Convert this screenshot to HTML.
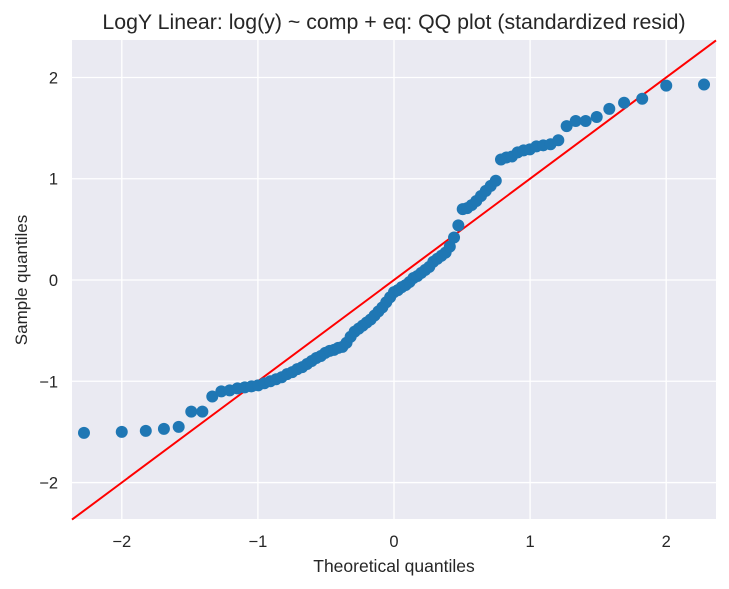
<!DOCTYPE html>
<html><head><meta charset="utf-8"><style>
html,body{margin:0;padding:0;background:#fff;}
svg{display:block;font-family:"Liberation Sans",sans-serif;}
</style></head><body>
<svg id="chart" width="729" height="589">
<rect x="72" y="40" width="644" height="479" fill="#EAEAF2"/>
<g id="grid"></g>
<g id="ticks"></g>
<line id="refline" stroke="red" stroke-width="2"/>
<g id="points"></g>
<text x="394" y="29" text-anchor="middle" font-size="21.3" fill="#262626">LogY Linear: log(y) ~ comp + eq: QQ plot (standardized resid)</text>
<text x="394" y="572" text-anchor="middle" font-size="17.5" fill="#262626">Theoretical quantiles</text>
<text x="27" y="280" text-anchor="middle" font-size="17" fill="#262626" transform="rotate(-90 27 280)">Sample quantiles</text>
</svg>
<script>
const sampleQuantiles = [-1.51,-1.50,-1.49,-1.47,-1.45,-1.30,-1.30,-1.15,-1.10,-1.09,-1.07,-1.06,-1.05,-1.04,-1.02,-1.00,-0.98,-0.96,-0.93,-0.91,-0.88,-0.86,-0.83,-0.80,-0.77,-0.75,-0.72,-0.70,-0.69,-0.67,-0.66,-0.62,-0.56,-0.51,-0.48,-0.45,-0.42,-0.39,-0.35,-0.31,-0.27,-0.22,-0.17,-0.12,-0.10,-0.07,-0.05,-0.02,0.02,0.04,0.07,0.10,0.13,0.18,0.21,0.24,0.27,0.33,0.42,0.54,0.70,0.71,0.74,0.78,0.83,0.88,0.93,0.98,1.19,1.21,1.22,1.26,1.28,1.29,1.32,1.33,1.34,1.38,1.52,1.57,1.57,1.61,1.69,1.75,1.79,1.92,1.93];
const xTicks = [-2,-1,0,1,2];
const yTicks = [-2,-1,0,1,2];
const xDomain = [-2.366,2.366];
const yDomain = [-2.36,2.37];

const L=72,R=716,T=40,B=519;
function sx(v){return L+(v-xDomain[0])/(xDomain[1]-xDomain[0])*(R-L);}
function sy(v){return B-(v-yDomain[0])/(yDomain[1]-yDomain[0])*(B-T);}
function ppf(p){
 const a=[-39.69683028665376,220.9460984245205,-275.9285104469687,138.357751867269,-30.66479806614716,2.506628277459239];
 const b=[-54.47609879822406,161.5858368580409,-155.6989798598866,66.80131188771972,-13.28068155288572];
 const c=[-0.007784894002430293,-0.3223964580411365,-2.400758277161838,-2.549732539343734,4.374664141464968,2.938163982698783];
 const d=[0.007784695709041462,0.3224671290700398,2.445134137142996,3.754408661907416];
 let q,r;
 if(p<0.02425){q=Math.sqrt(-2*Math.log(p));return(((((c[0]*q+c[1])*q+c[2])*q+c[3])*q+c[4])*q+c[5])/((((d[0]*q+d[1])*q+d[2])*q+d[3])*q+1);}
 if(p>1-0.02425){q=Math.sqrt(-2*Math.log(1-p));return-(((((c[0]*q+c[1])*q+c[2])*q+c[3])*q+c[4])*q+c[5])/((((d[0]*q+d[1])*q+d[2])*q+d[3])*q+1);}
 q=p-0.5;r=q*q;return(((((a[0]*r+a[1])*r+a[2])*r+a[3])*r+a[4])*r+a[5])*q/(((((b[0]*r+b[1])*r+b[2])*r+b[3])*r+b[4])*r+1);
}
const NS="http://www.w3.org/2000/svg";
const grid=document.getElementById('grid'), ticks=document.getElementById('ticks'), pts=document.getElementById('points');
function fmt(v){return v<0?'\u2212'+Math.abs(v):String(v);}
xTicks.forEach(v=>{
 const l=document.createElementNS(NS,'line');
 l.setAttribute('x1',sx(v));l.setAttribute('x2',sx(v));l.setAttribute('y1',T);l.setAttribute('y2',B);
 l.setAttribute('stroke','#fff');l.setAttribute('stroke-width','1.3');
 
 
 grid.appendChild(l);
 const t=document.createElementNS(NS,'text');
 t.setAttribute('x',sx(v));t.setAttribute('y',B+28);t.setAttribute('text-anchor','middle');
 t.setAttribute('font-size','16.5');t.setAttribute('fill','#262626');t.textContent=fmt(v);
 
 
 ticks.appendChild(t);
});
yTicks.forEach(v=>{
 const l=document.createElementNS(NS,'line');
 l.setAttribute('x1',L);l.setAttribute('x2',R);l.setAttribute('y1',sy(v));l.setAttribute('y2',sy(v));
 l.setAttribute('stroke','#fff');l.setAttribute('stroke-width','1.3');
 
 
 grid.appendChild(l);
 const t=document.createElementNS(NS,'text');
 t.setAttribute('x',L-14);t.setAttribute('y',sy(v)+6);t.setAttribute('text-anchor','end');
 t.setAttribute('font-size','16.5');t.setAttribute('fill','#262626');t.textContent=fmt(v);
 
 
 ticks.appendChild(t);
});
const rl=document.getElementById('refline');
rl.setAttribute('x1',sx(xDomain[0]));rl.setAttribute('y1',sy(xDomain[0]));
rl.setAttribute('x2',sx(xDomain[1]));rl.setAttribute('y2',sy(xDomain[1]));
const n=sampleQuantiles.length;
sampleQuantiles.forEach((v,i)=>{
 const x=ppf((i+1)/(n+1));
 const c=document.createElementNS(NS,'circle');
 c.setAttribute('cx',sx(x));c.setAttribute('cy',sy(v));c.setAttribute('r','6');c.setAttribute('fill','#1f77b4');
 
 
 pts.appendChild(c);
});
</script>
</body></html>
